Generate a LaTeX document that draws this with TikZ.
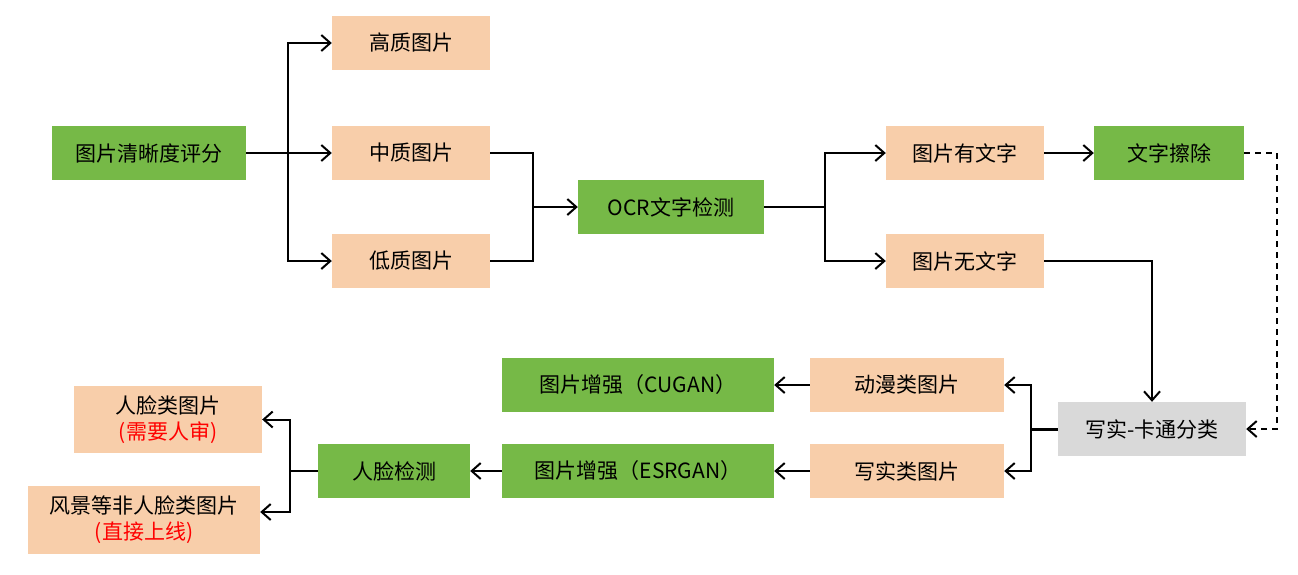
\documentclass[tikz,border=0pt]{standalone}
\usepackage{fontspec}
\setmainfont{Noto Sans CJK SC}
\usetikzlibrary{arrows.meta}
\definecolor{gbox}{HTML}{76B947}
\definecolor{pbox}{HTML}{F8CEAA}
\definecolor{grbox}{HTML}{D9D9D9}
\definecolor{redtxt}{HTML}{FF0000}
\begin{document}
\begin{tikzpicture}[x=1pt,y=-1pt,
  box/.style={inner sep=0pt, minimum height=54pt, font=\fontsize{21}{26}\selectfont, align=center, text=black},
  gb/.style={box, fill=gbox},
  pb/.style={box, fill=pbox},
  grb/.style={box, fill=grbox},
  plain/.style={line width=2pt, draw=black},
  conn/.style={plain, -{Straight Barb[length=9pt,width=16pt,line width=2pt]}}]
\useasboundingbox (0,0) rectangle (1298,574);
% nodes
\node[gb, minimum width=194pt] (score) at (149,153) {图片清晰度评分};
\node[pb, minimum width=158pt] (high) at (411,43) {高质图片};
\node[pb, minimum width=158pt] (mid) at (411,153) {中质图片};
\node[pb, minimum width=158pt] (low) at (411,261) {低质图片};
\node[gb, minimum width=186pt] (ocr) at (671,207) {OCR文字检测};
\node[pb, minimum width=158pt] (yes) at (965,153) {图片有文字};
\node[pb, minimum width=158pt] (no) at (965,261) {图片无文字};
\node[gb, minimum width=150pt] (erase) at (1169,153) {文字擦除};
\node[grb, minimum width=188pt] (cls) at (1152,429) {写实-卡通分类};
\node[pb, minimum width=194pt] (anime) at (907,385) {动漫类图片};
\node[pb, minimum width=194pt] (real) at (907,471) {写实类图片};
\node[gb, minimum width=272pt] (cugan) at (638,385) {图片增强（CUGAN）};
\node[gb, minimum width=272pt] (esrgan) at (638,471) {图片增强（ESRGAN）};
\node[gb, minimum width=152pt] (face) at (394,471) {人脸检测};
\node[pb, minimum width=188pt, minimum height=67pt] (facepic) at (168,419.5) {人脸类图片\\\textcolor{redtxt}{(需要人审)}};
\node[pb, minimum width=232pt, minimum height=68pt] (scene) at (144,520) {风景等非人脸类图片\\\textcolor{redtxt}{(直接上线)}};
% connectors
\coordinate (b1) at (288,153);
\draw[conn] (score.east) -- (mid.west);
\draw[conn] (b1) |- (high.west);
\draw[conn] (b1) |- (low.west);
\coordinate (m1) at (533,207);
\draw[plain] (mid.east) -| (m1);
\draw[plain] (low.east) -| (m1);
\draw[conn] (m1) -- (ocr.west);
\coordinate (b2) at (825,207);
\draw[plain] (ocr.east) -- (b2);
\draw[conn] (b2) |- (yes.west);
\draw[conn] (b2) |- (no.west);
\draw[conn] (yes.east) -- (erase.west);
\coordinate (d1) at (1277,153);
\draw[plain, dash pattern=on 6pt off 5pt] (erase.east) -- (d1);
\draw[conn, dash pattern=on 6pt off 5pt] (d1) |- (cls.east);
\draw[conn] (no.east) -| (cls.north);
\coordinate (b3) at (1031,429);
\draw[plain, line width=3pt] (cls.west) -- (b3);
\draw[conn] (b3) |- (anime.east);
\draw[conn] (b3) |- (real.east);
\draw[conn] (anime.west) -- (cugan.east);
\draw[conn] (real.west) -- (esrgan.east);
\draw[conn] (esrgan.west) -- (face.east);
\coordinate (b4) at (290,471);
\draw[plain] (face.west) -- (b4);
\draw[conn] (b4) |- (facepic.east);
\draw[conn] (b4) |- ([yshift=8pt]scene.east);
\end{tikzpicture}
\end{document}
